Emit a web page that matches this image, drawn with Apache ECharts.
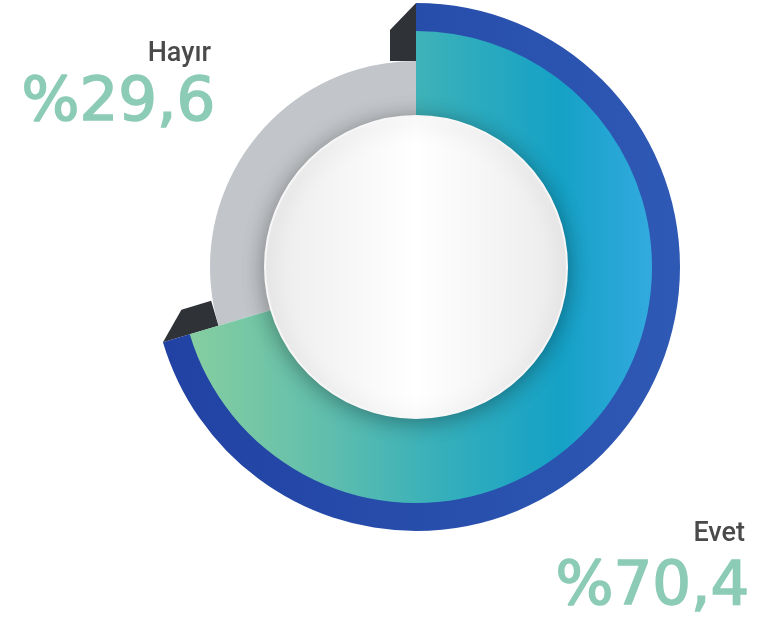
<!DOCTYPE html>
<html>
<head>
<meta charset="utf-8">
<script src="https://cdn.jsdelivr.net/npm/echarts@6/dist/echarts.min.js"></script>
<style>
  html, body { margin: 0; padding: 0; background: #fff; }
  #main { width: 766px; height: 618px; }
</style>
</head>
<body>
<div id="main"></div>
<script>
// answers and their shares (%)
const categories = ['Evet', 'Hayır'];
const shares = [70.4, 29.6];
// where the "Evet" arc starts and ends, with which way its dark side face points
const edges = [[0, -1], [70.4, 1]];

const CX = 416, CY = 267;
const R_IN = 140, R_GRAY = 206, R_TEAL = 237, R_OUT = 264;

function pct(v) {
  return '%' + String(v).replace('.', ',');
}

const chart = echarts.init(document.getElementById('main'));

const teal = new echarts.graphic.LinearGradient(0, 0, 1, 0, [
  { offset: 0, color: '#86cea0' },
  { offset: 0.3, color: '#60bead' },
  { offset: 0.55, color: '#35afbb' },
  { offset: 0.8, color: '#15a1c6' },
  { offset: 1, color: '#33aadf' }
]);
const blue = new echarts.graphic.LinearGradient(0, 0, 1, 0, [
  { offset: 0, color: '#2142a3' },
  { offset: 1, color: '#2e59b4' }
]);
const none = 'rgba(0,0,0,0)';

function ring(radius, colors) {
  return {
    type: 'pie',
    silent: true,
    center: [CX, CY],
    radius: radius,
    startAngle: 90,
    clockwise: true,
    label: { show: false },
    labelLine: { show: false },
    emphasis: { disabled: true },
    data: categories.map((c, i) => ({
      name: c,
      value: shares[i],
      itemStyle: { color: colors[i] }
    }))
  };
}

function sideFace(params, api) {
  const v = api.value(0), dir = api.value(1);
  const t = v / 100 * Math.PI * 2;
  const s = Math.sin(t), c = Math.cos(t);
  const p = r => [CX + r * s, CY - r * c];
  const d = 26 * dir;
  const a = p(R_GRAY), b = p(R_OUT), e = p(R_TEAL);
  const pts = [
    a, b,
    [e[0] + d * c, e[1] + d * s],
    [a[0] + d * c, a[1] + d * s]
  ];
  return {
    type: 'polygon',
    shape: { points: pts },
    style: { fill: '#2f3338' }
  };
}

const bigText = {
  font: '61px "DejaVu Sans"',
  fill: '#8ccbb6',
  stroke: '#8ccbb6',
  lineWidth: 1.6
};

chart.setOption({
  animation: false,
  backgroundColor: '#fff',
  series: [
    {
      type: 'custom',
      coordinateSystem: 'none',
      silent: true,
      z: 1,
      renderItem: sideFace,
      data: edges
    },
    Object.assign(ring([R_IN, R_GRAY], [none, '#c2c5c9']), { z: 2 }),
    Object.assign(ring([R_IN, R_TEAL], [teal, none]), { z: 2 }),
    Object.assign(ring([R_TEAL - 1, R_OUT], [blue, none]), { z: 3 }),
    {
      type: 'pie',
      silent: true,
      z: 5,
      center: [CX, CY],
      radius: [0, 151],
      label: { show: false },
      labelLine: { show: false },
      emphasis: { disabled: true },
      itemStyle: {
        color: new echarts.graphic.LinearGradient(0, 0, 1, 0, [
          { offset: 0, color: '#ececec' },
          { offset: 0.5, color: '#ffffff' },
          { offset: 1, color: '#ebebeb' }
        ]),
        borderColor: '#f7f7f7',
        borderWidth: 2,
        shadowBlur: 22,
        shadowColor: 'rgba(0,0,0,0.35)',
        shadowOffsetY: 3
      },
      data: [{ name: '', value: 1 }]
    }
  ],
  graphic: [
    {
      type: 'text', right: 555, top: 41,
      style: { text: categories[1], font: '500 27px Roboto', fill: '#4a4a4a' }
    },
    {
      type: 'text', right: 550, top: 73,
      style: Object.assign({ text: pct(shares[1]) }, bigText)
    },
    {
      type: 'text', right: 21, top: 521,
      style: { text: categories[0], font: '500 27px Roboto', fill: '#4a4a4a' }
    },
    {
      type: 'text', right: 16, top: 557,
      style: Object.assign({ text: pct(shares[0]) }, bigText)
    }
  ]
});
</script>
</body>
</html>
